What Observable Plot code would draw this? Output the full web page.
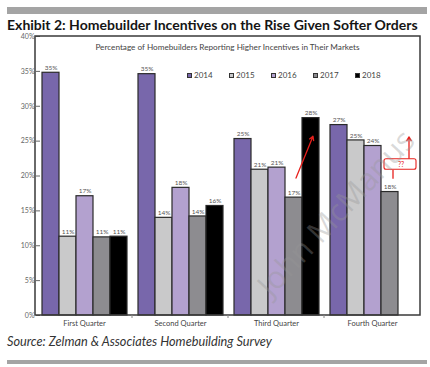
<!DOCTYPE html>
<html><head><meta charset="utf-8">
<script src="https://cdn.jsdelivr.net/npm/d3@7"></script>
<script src="https://cdn.jsdelivr.net/npm/@observablehq/plot@0.6"></script>
<style>
body{margin:0;background:#fff;width:430px;height:367px;position:relative;overflow:hidden;font-family:Lato, "Open Sans", sans-serif;}
.gbar{position:absolute;left:7px;width:420px;background:#a4a4a4;}
#title{position:absolute;left:7px;top:18px;font-weight:bold;font-size:14px;line-height:1;color:#151515;white-space:nowrap;}
#chart{position:absolute;left:0;top:28px;}
#subtitle{position:absolute;top:42px;left:35px;width:385px;text-align:center;font-size:8.2px;color:#444;}
#legend{position:absolute;top:70px;left:187px;display:flex;font-size:8px;color:#444;}
#legend .it{width:42px;display:flex;align-items:center;}
#legend .sw{width:5px;height:5px;border:1px solid #333;margin-right:2px;box-sizing:border-box;}
#source{position:absolute;left:7px;top:333px;font-style:italic;font-size:12px;color:#333;white-space:nowrap;}
#wm{position:absolute;left:335px;top:212px;transform:translate(-50%,-50%) rotate(-47deg);font-size:31px;color:rgba(150,150,150,0.35);white-space:nowrap;font-family:"Open Sans",sans-serif;pointer-events:none;}
</style></head>
<body>
<div class="gbar" style="top:7px;height:7px"></div>
<div id="title">Exhibit 2: Homebuilder Incentives on the Rise Given Softer Orders</div>
<div id="chart"></div>
<div id="subtitle">Percentage of Homebuilders Reporting Higher Incentives in Their Markets</div>
<div id="legend"></div>
<div id="wm">John McManus</div>
<div id="source">Source: Zelman &amp; Associates Homebuilding Survey</div>
<div class="gbar" style="top:360px;height:4px"></div>
<script>
const quarters = ["First Quarter","Second Quarter","Third Quarter","Fourth Quarter"];
const years = ["2014","2015","2016","2017","2018"];
const v2014 = [34.8, 34.6, 25.3, 27.3];
const v2015 = [11.3, 14.0, 20.9, 25.1];
const v2016 = [17.1, 18.3, 21.2, 24.3];
const v2017 = [11.2, 14.2, 16.9, 17.7];
const v2018 = [11.3, 15.7, 28.3, null];
const colors = ["#7867ab","#c9c9ca","#b3a1cf","#8d8c90","#000000"];
const yTicks = [0,5,10,15,20,25,30,35,40];

// annotations (data coordinates)
const arrowQuarter = ["Third Quarter","Fourth Quarter"];
const arrowFrom = [["2017",19.7],["2018",22.4]];
const arrowTo = [["2018",25.7],["2018",25.6]];
const questionLabel = "??";

const series = [v2014, v2015, v2016, v2017, v2018];
const rows = [];
quarters.forEach((q, i) => years.forEach((yr, j) => {
  const v = series[j][i];
  if (v != null) rows.push({quarter: q, year: yr, value: v});
}));
const arrows = arrowQuarter.map((q, i) => ({quarter: q, x1: arrowFrom[i][0], y1: arrowFrom[i][1], x2: arrowTo[i][0], y2: arrowTo[i][1]}));
const box = [{quarter: "Fourth Quarter", year: "2018", y1: 20.9, y2: 22.4, label: questionLabel}];
const lead = [{quarter: "Fourth Quarter", x1: "2017", y1: 19.6, x2: "2017", y2: 20.9}];

const plot = Plot.plot({
  width: 430, height: 310,
  marginLeft: 35, marginRight: 10, marginTop: 8, marginBottom: 23,
  style: {fontFamily: "Lato, sans-serif", fontSize: "7px", color: "#666", background: "transparent"},
  fx: {domain: quarters, label: null, paddingInner: 0.085, paddingOuter: 0.0425, tickSize: 0, tickPadding: 5, axis: "bottom"},
  x: {domain: years, axis: null, padding: 0},
  y: {domain: [0, 40], ticks: yTicks, tickFormat: d => d + "%", label: null, tickSize: 4, tickPadding: 2},
  color: {domain: years, range: colors},
  marks: [
    Plot.barY(rows, {fx: "quarter", x: "year", y: "value", fill: "year", stroke: "#2a2a2a", strokeWidth: 1.2}),
    Plot.text(rows, {fx: "quarter", x: "year", y: "value", text: d => Math.round(d.value) + "%", dy: -5, fontSize: 6.5, fill: "#555"}),
    Plot.arrow(arrows, {fx: "quarter", x1: "x1", y1: "y1", x2: "x2", y2: "y2", dx: 2, stroke: "#e8201c", strokeWidth: 1.3, headLength: 5, bend: false}),
    Plot.link(lead, {fx: "quarter", x1: "x1", y1: "y1", x2: "x2", y2: "y2", dx: 3, stroke: "#e8201c", strokeWidth: 1.3}),
    Plot.barY(box, {fx: "quarter", x: "year", y1: "y1", y2: "y2", insetLeft: -14, insetRight: -1, fill: "white", stroke: "#e8201c", strokeWidth: 1.1, rx: 2}),
    Plot.text(box, {fx: "quarter", x: "year", y: d => (d.y1 + d.y2) / 2, text: "label", dx: -6, fontSize: 7, fill: "#e8201c"})
  ]
});
document.getElementById("chart").appendChild(plot);
d3.select(plot).selectAll("g[aria-label='fx-axis tick label'] text, g[aria-label='fx-axis'] text").attr("fill", "#444").style("font-size", "7.5px");

// frame and bottom axis ticks
const svg = d3.select(plot);
const ys = plot.scale("y"), fxs = plot.scale("fx");
const x0 = 35, x1 = 430 - 10;
const yTop = ys.apply(40), yBot = ys.apply(0);
svg.append("rect").attr("x", x0).attr("y", yTop).attr("width", x1 - x0).attr("height", yBot - yTop)
  .attr("fill", "none").attr("stroke", "#3a3a3a").attr("stroke-width", 1.5);
const step = fxs.apply(quarters[1]) - fxs.apply(quarters[0]);
const gap = step - fxs.bandwidth;
for (let i = 1; i < quarters.length; i++) {
  const bx = fxs.apply(quarters[i]) - gap / 2;
  svg.append("line").attr("x1", bx).attr("x2", bx).attr("y1", yBot).attr("y2", yBot + 3).attr("stroke", "#888");
}

// legend
const leg = d3.select("#legend");
years.forEach((yr, i) => {
  const it = leg.append("div").attr("class", "it");
  it.append("div").attr("class", "sw").style("background", colors[i]);
  it.append("span").text(yr);
});

// fit text widths to the reference
function fit(id, target) {
  const el = document.getElementById(id);
  const fs = parseFloat(getComputedStyle(el).fontSize);
  el.style.fontSize = (fs * target / el.getBoundingClientRect().width) + "px";
}
fit("title", 411);
fit("source", 265);
</script>
</body></html>
